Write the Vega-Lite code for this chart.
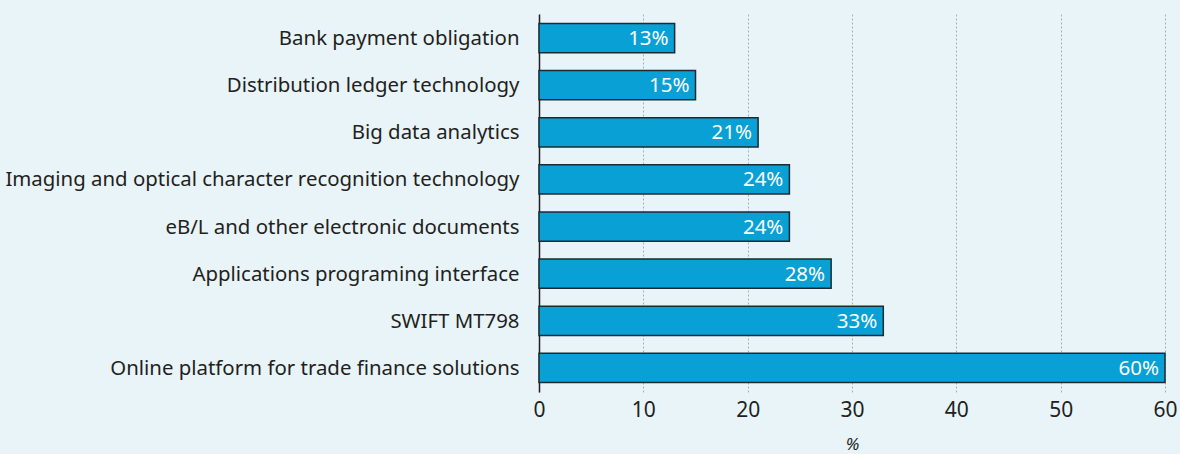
{
  "$schema": "https://vega.github.io/schema/vega-lite/v6.json",
  "autosize": {"type": "none"},
  "width": 626,
  "height": 378,
  "padding": {"left": 539, "top": 14, "right": 15, "bottom": 62},
  "background": "#e8f4f8",
  "config": {
    "view": {"stroke": null},
    "font": "Noto Sans"
  },
  "data": {
    "values": [
      {"item": "Bank payment obligation", "value": 13},
      {"item": "Distribution ledger technology", "value": 15},
      {"item": "Big data analytics", "value": 21},
      {"item": "Imaging and optical character recognition technology", "value": 24},
      {"item": "eB/L and other electronic documents", "value": 24},
      {"item": "Applications programing interface", "value": 28},
      {"item": "SWIFT MT798", "value": 33},
      {"item": "Online platform for trade finance solutions", "value": 60}
    ]
  },
  "encoding": {
    "y": {
      "field": "item", "type": "nominal", "sort": null,
      "scale": {"paddingInner": 0.38, "paddingOuter": 0.2},
      "axis": {
        "title": null, "ticks": false, "labelFontSize": 20.4, "labelColor": "#231f20",
        "labelPadding": 20, "labelOffset": 1, "domainColor": "#231f20", "domainWidth": 1.5,
        "labelLimit": 600, "grid": false
      }
    },
    "x": {
      "field": "value", "type": "quantitative",
      "scale": {"domain": [0, 60], "nice": false},
      "axis": {
        "title": "%", "titleFontStyle": "italic", "titleFontWeight": "normal", "titleFontSize": 17,
        "titleColor": "#231f20", "titlePadding": 16,
        "values": [0, 10, 20, 30, 40, 50, 60], "labelFlush": false,
        "labelFontSize": 21, "labelColor": "#231f20", "labelPadding": 7,
        "domain": false, "ticks": false,
        "grid": true, "gridDash": [2, 2], "gridColor": "#a8b0b4", "gridWidth": 1
      }
    }
  },
  "layer": [
    {
      "mark": {"type": "bar", "color": "#09a0d6", "stroke": "#1e2a30", "strokeWidth": 1.5}
    },
    {
      "mark": {"type": "text", "align": "right", "dx": -6, "dy": 1, "color": "white", "fontSize": 20.5, "baseline": "middle"},
      "encoding": {
        "text": {"field": "label", "type": "nominal"}
      },
      "transform": [{"calculate": "datum.value + '%'", "as": "label"}]
    }
  ]
}
